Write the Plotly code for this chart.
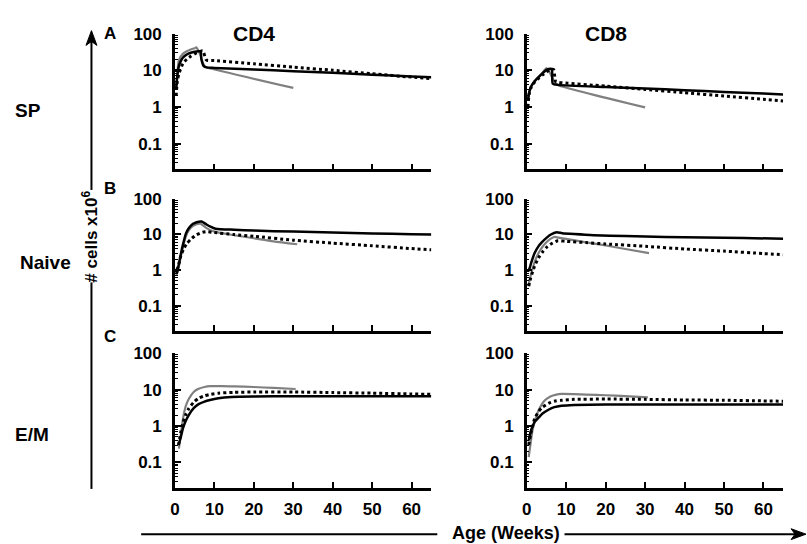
import plotly.graph_objects as go

# ---------------- data (weeks, # cells x10^6) ----------------
# Panel A: SP
A_CD4_solid_w = [0.3, 0.6, 1, 1.5, 2, 3, 4, 5, 6, 6.5, 6.7, 7.3, 8, 10, 20, 30, 40, 50, 60, 65]
A_CD4_solid_v = [3, 7, 13, 18, 22, 27, 30, 32, 33, 33, 20, 13, 12, 11.6, 10.5, 9.4, 8.5, 7.6, 6.8, 6.5]
A_CD4_dot_w = [0.3, 0.6, 1, 2, 3, 4, 5, 6, 7, 7.3, 8, 10, 20, 30, 40, 50, 60, 65]
A_CD4_dot_v = [2, 5, 8, 15, 20, 24, 28, 31, 34, 30, 19, 18.5, 15, 12.2, 10, 8, 6.5, 5.9]
A_CD4_gray_w = [0.3, 0.6, 1, 2, 3, 4, 5, 5.4, 6, 6.5, 7, 7.5, 8, 8.5, 30]
A_CD4_gray_v = [3, 8, 19, 28, 33, 37, 40, 42, 33, 25, 17, 13, 12, 11.5, 3.3]

A_CD8_solid_w = [0.3, 0.6, 1, 2, 3, 4, 5, 6.1, 6.4, 6.6, 8, 20, 30, 40, 50, 60, 65]
A_CD8_solid_v = [1.5, 2.4, 3.4, 5, 6.5, 8.3, 10.2, 11, 10, 4.3, 4.0, 3.5, 3.2, 2.86, 2.57, 2.32, 2.2]
A_CD8_dot_w = [0.3, 0.6, 1, 2, 3, 4, 5, 6, 6.8, 7.3, 8, 20, 30, 40, 50, 60, 65]
A_CD8_dot_v = [1.0, 2.2, 3.2, 4.8, 6, 7.5, 9, 10.5, 10.5, 5, 4.7, 3.7, 3.0, 2.44, 1.98, 1.61, 1.45]
A_CD8_gray_w = [0.3, 0.6, 1, 2, 3, 4, 5, 5.5, 6, 6.6, 7.2, 8, 30]
A_CD8_gray_v = [1.5, 2.5, 3.5, 5, 6.5, 8.5, 11.5, 10, 8, 5.9, 4.5, 3.9, 0.97]

# Panel B: Naive
B_CD4_solid_w = [0.3, 0.6, 1, 1.5, 2, 2.8, 3.5, 4.5, 5.5, 6.75, 8, 9, 10.3, 15, 20, 30, 40, 50, 60, 65]
B_CD4_solid_v = [0.8, 0.9, 1.5, 2.8, 5, 10.7, 15, 19.5, 22, 23, 19, 16.5, 14.5, 13.5, 12.8, 12, 11.3, 10.7, 10.1, 10]
B_CD4_dot_w = [0.5, 1, 1.5, 2.3, 3, 4.3, 5.5, 7, 8, 10, 15, 20, 30, 40, 50, 60, 65]
B_CD4_dot_v = [1, 1.5, 2.5, 4.1, 5.5, 7.8, 9.8, 11.5, 12, 11.3, 9.9, 8.9, 6.9, 5.7, 4.8, 4, 3.7]
B_CD4_gray_w = [0.3, 0.6, 1, 1.5, 2, 2.8, 3.5, 4.5, 5.5, 6.5, 8, 10, 15, 20, 25, 31]
B_CD4_gray_v = [0.7, 0.85, 1.3, 2.4, 4.3, 9, 13, 17, 19.5, 20, 15, 12, 9.5, 7.8, 6.4, 5.3]

B_CD8_solid_w = [0.3, 0.7, 1.2, 2, 3, 3.8, 5, 6, 7.6, 9, 12, 17, 25, 35, 45, 55, 65]
B_CD8_solid_v = [0.9, 1.1, 1.7, 3, 4.7, 6, 8, 9.8, 11.5, 10.8, 10.2, 9.5, 9, 8.5, 8.2, 7.9, 7.6]
B_CD8_dot_w = [0.5, 1, 1.5, 2, 3, 4, 5, 6, 7.9, 10, 15, 20, 30.6, 40, 50, 60, 65]
B_CD8_dot_v = [0.35, 0.6, 0.9, 1.3, 2.2, 3.2, 4.3, 5.3, 6.6, 6.4, 5.9, 5.4, 4.6, 3.9, 3.4, 2.9, 2.7]
B_CD8_gray_w = [0.5, 1, 1.5, 2, 3, 4, 5, 6, 7.1, 8, 10, 15, 20, 25, 31]
B_CD8_gray_v = [0.4, 0.7, 1.1, 1.7, 3, 4.5, 6, 7.5, 8.5, 8.1, 7.5, 6.0, 4.9, 3.9, 3.0]

# Panel C: E/M
C_CD4_solid_w = [0.9, 1.5, 2, 2.7, 3.5, 4.75, 6, 7.5, 8.9, 11, 14.3, 20, 30, 40, 50, 60, 65]
C_CD4_solid_v = [0.3, 0.5, 0.85, 1.36, 2, 3.1, 4, 4.7, 5.2, 5.8, 6.3, 6.5, 6.6, 6.6, 6.6, 6.6, 6.6]
C_CD4_dot_w = [0.9, 1.5, 2, 2.7, 3.5, 4.75, 6, 7.5, 8.9, 11, 15, 20, 30, 40, 50, 60, 65]
C_CD4_dot_v = [0.3, 0.7, 1.2, 2, 3, 4.5, 5.8, 6.8, 7.4, 8, 8.4, 8.6, 8.6, 8.3, 8, 7.6, 7.4]
C_CD4_gray_w = [1, 1.5, 2, 2.7, 3.5, 4.75, 6, 7.5, 8.9, 12, 15, 20, 25, 30.6]
C_CD4_gray_v = [0.24, 0.6, 1.5, 3.4, 5.5, 8.6, 10.5, 11.8, 12.4, 12.5, 12.3, 11.8, 11.1, 10.4]

C_CD8_solid_w = [0.5, 1, 1.5, 2, 3, 4, 5.5, 7, 8.8, 12, 20, 30, 40, 50, 60, 65]
C_CD8_solid_v = [0.4, 0.7, 1.0, 1.3, 1.7, 2.2, 2.8, 3.3, 3.6, 3.8, 3.9, 3.9, 3.9, 3.9, 3.9, 3.9]
C_CD8_dot_w = [0.5, 1, 1.5, 2, 3, 4, 5.5, 7, 8.8, 12, 20, 30, 40, 50, 60, 65]
C_CD8_dot_v = [0.3, 0.6, 1.0, 1.6, 2.5, 3.3, 4.2, 4.8, 5.1, 5.4, 5.5, 5.4, 5.2, 5.1, 4.9, 4.8]
C_CD8_gray_w = [0.5, 1, 1.5, 2.1, 3, 4.6, 6, 7.5, 8.8, 12, 15, 20, 25, 30.7]
C_CD8_gray_v = [0.14, 0.35, 0.8, 1.4, 2.7, 5.1, 6.5, 7.3, 7.6, 7.5, 7.3, 7, 6.6, 6.1]

row_labels = ["SP", "Naive", "E/M"]
panel_letters = ["A", "B", "C"]
col_titles = ["CD4", "CD8"]
x_ticks = [0, 10, 20, 30, 40, 50, 60]
y_ticks = [0.1, 1, 10, 100]
y_ticktext = ["0.1", "1", "10", "100"]

panels = [
    [(A_CD4_solid_w, A_CD4_solid_v, A_CD4_dot_w, A_CD4_dot_v, A_CD4_gray_w, A_CD4_gray_v),
     (A_CD8_solid_w, A_CD8_solid_v, A_CD8_dot_w, A_CD8_dot_v, A_CD8_gray_w, A_CD8_gray_v)],
    [(B_CD4_solid_w, B_CD4_solid_v, B_CD4_dot_w, B_CD4_dot_v, B_CD4_gray_w, B_CD4_gray_v),
     (B_CD8_solid_w, B_CD8_solid_v, B_CD8_dot_w, B_CD8_dot_v, B_CD8_gray_w, B_CD8_gray_v)],
    [(C_CD4_solid_w, C_CD4_solid_v, C_CD4_dot_w, C_CD4_dot_v, C_CD4_gray_w, C_CD4_gray_v),
     (C_CD8_solid_w, C_CD8_solid_v, C_CD8_dot_w, C_CD8_dot_v, C_CD8_gray_w, C_CD8_gray_v)],
]

# ---------------- layout ----------------
W, H = 807, 544
FONT = "Liberation Sans, Arial, Helvetica, sans-serif"

def px(x):
    return x / W

def py(y):
    return 1 - y / H

x_doms = [[px(171), px(429)], [px(525), px(783)]]
y_doms = [[py(163), py(25)], [py(327), py(193)], [py(487), py(350)]]

minor_vals = []
for dec in [0.01, 0.1, 1, 10]:
    for m in range(2, 10):
        minor_vals.append(dec * m)

fig = go.Figure()
layout = dict(
    width=W, height=H,
    margin=dict(l=0, r=0, t=0, b=0),
    paper_bgcolor="white", plot_bgcolor="white",
    showlegend=False,
    font=dict(family=FONT, size=17, color="black", weight="bold"),
)

TICKFONT = dict(family=FONT, size=17, color="black", weight="bold")

for r in range(3):
    for c in range(2):
        i = r * 2 + c + 1
        xa = "x" if i == 1 else f"x{i}"
        ya = "y" if i == 1 else f"y{i}"
        sw, sv, dw, dv, gw, gv = panels[r][c]
        fig.add_trace(go.Scatter(x=gw, y=gv, mode="lines", xaxis=xa, yaxis=ya,
                                 line=dict(color="#808080", width=2.2, shape="spline", smoothing=0.6)))
        fig.add_trace(go.Scatter(x=sw, y=sv, mode="lines", xaxis=xa, yaxis=ya,
                                 line=dict(color="black", width=2.5, shape="spline", smoothing=0.6)))
        fig.add_trace(go.Scatter(x=dw, y=dv, mode="lines", xaxis=xa, yaxis=ya,
                                 line=dict(color="black", width=3, dash="dot", shape="spline", smoothing=0.6)))
        layout["xaxis" if i == 1 else f"xaxis{i}"] = dict(
            domain=x_doms[c], anchor=ya, range=[0, 65],
            showline=True, linecolor="black", linewidth=2.5,
            showgrid=False, zeroline=False,
            ticks="inside", ticklen=6, tickwidth=1.5, tickcolor="black",
            tickvals=x_ticks, showticklabels=(r == 2), ticklabelstandoff=4,
            tickfont=TICKFONT,
        )
        layout["yaxis" if i == 1 else f"yaxis{i}"] = dict(
            domain=y_doms[r], anchor=xa, type="log", range=[-1.7, 2],
            showline=True, linecolor="black", linewidth=2.5,
            showgrid=False, zeroline=False,
            ticks="inside", ticklen=6, tickwidth=1.5, tickcolor="black",
            tickvals=y_ticks, ticktext=y_ticktext, ticklabelstandoff=7,
            tickfont=TICKFONT,
            minor=dict(tickvals=minor_vals, ticks="inside", ticklen=3, tickwidth=1, tickcolor="black"),
        )

fig.update_layout(**layout)

ann = []
# column titles
for cx, t in zip([251, 605], col_titles):
    ann.append(dict(x=px(cx), y=py(25), xref="paper", yref="paper", text=t, showarrow=False,
                    font=dict(size=21, family=FONT, weight="bold"), xanchor="center", yanchor="middle"))
# row labels and panel letters
for lab, lx, ly in zip(row_labels, [8, 13, 8], [103, 258, 433]):
    ann.append(dict(x=px(lx), y=py(ly), xref="paper", yref="paper", text=lab, showarrow=False,
                    font=dict(size=19, family=FONT, weight="bold"), xanchor="left", yanchor="middle"))
for let, ly in zip(panel_letters, [25, 183, 333]):
    ann.append(dict(x=px(106), y=py(ly), xref="paper", yref="paper", text=let, showarrow=False,
                    font=dict(size=17, family=FONT, weight="bold"), xanchor="center", yanchor="middle"))
# vertical axis label
ann.append(dict(x=px(86), y=py(231), xref="paper", yref="paper", text="# cells x10<sup>6</sup>",
                textangle=-90, showarrow=False, font=dict(size=17, family=FONT, weight="bold"),
                xanchor="center", yanchor="middle"))
# horizontal axis label
ann.append(dict(x=px(504), y=py(533), xref="paper", yref="paper", text="Age (Weeks)",
                showarrow=False, font=dict(size=18, family=FONT, weight="bold"),
                xanchor="center", yanchor="middle"))
fig.update_layout(annotations=ann)

def tri(points):
    return "M " + " L ".join(f"{px(a)},{py(b)}" for a, b in points) + " Z"

fig.update_layout(shapes=[
    # vertical arrow (lower and upper parts)
    dict(type="line", xref="paper", yref="paper", x0=px(87), x1=px(87), y0=py(488), y1=py(278),
         line=dict(color="black", width=2)),
    dict(type="line", xref="paper", yref="paper", x0=px(87), x1=px(87), y0=py(184), y1=py(32),
         line=dict(color="black", width=2)),
    dict(type="path", xref="paper", yref="paper",
         path=tri([(87, 22), (92.5, 37), (87, 33), (81.5, 37)]),
         fillcolor="black", line=dict(color="black", width=1)),
    # horizontal arrow (left and right parts)
    dict(type="line", xref="paper", yref="paper", x0=px(137), x1=px(435), y0=py(534), y1=py(534),
         line=dict(color="black", width=2)),
    dict(type="line", xref="paper", yref="paper", x0=px(563), x1=px(797), y0=py(534), y1=py(534),
         line=dict(color="black", width=2)),
    dict(type="path", xref="paper", yref="paper",
         path=tri([(806, 534), (791, 528.5), (795, 534), (791, 539.5)]),
         fillcolor="black", line=dict(color="black", width=1)),
])

fig.write_html("out.html", config={"displayModeBar": False},
               post_script="document.body.style.margin='0';document.body.style.padding='0';")
